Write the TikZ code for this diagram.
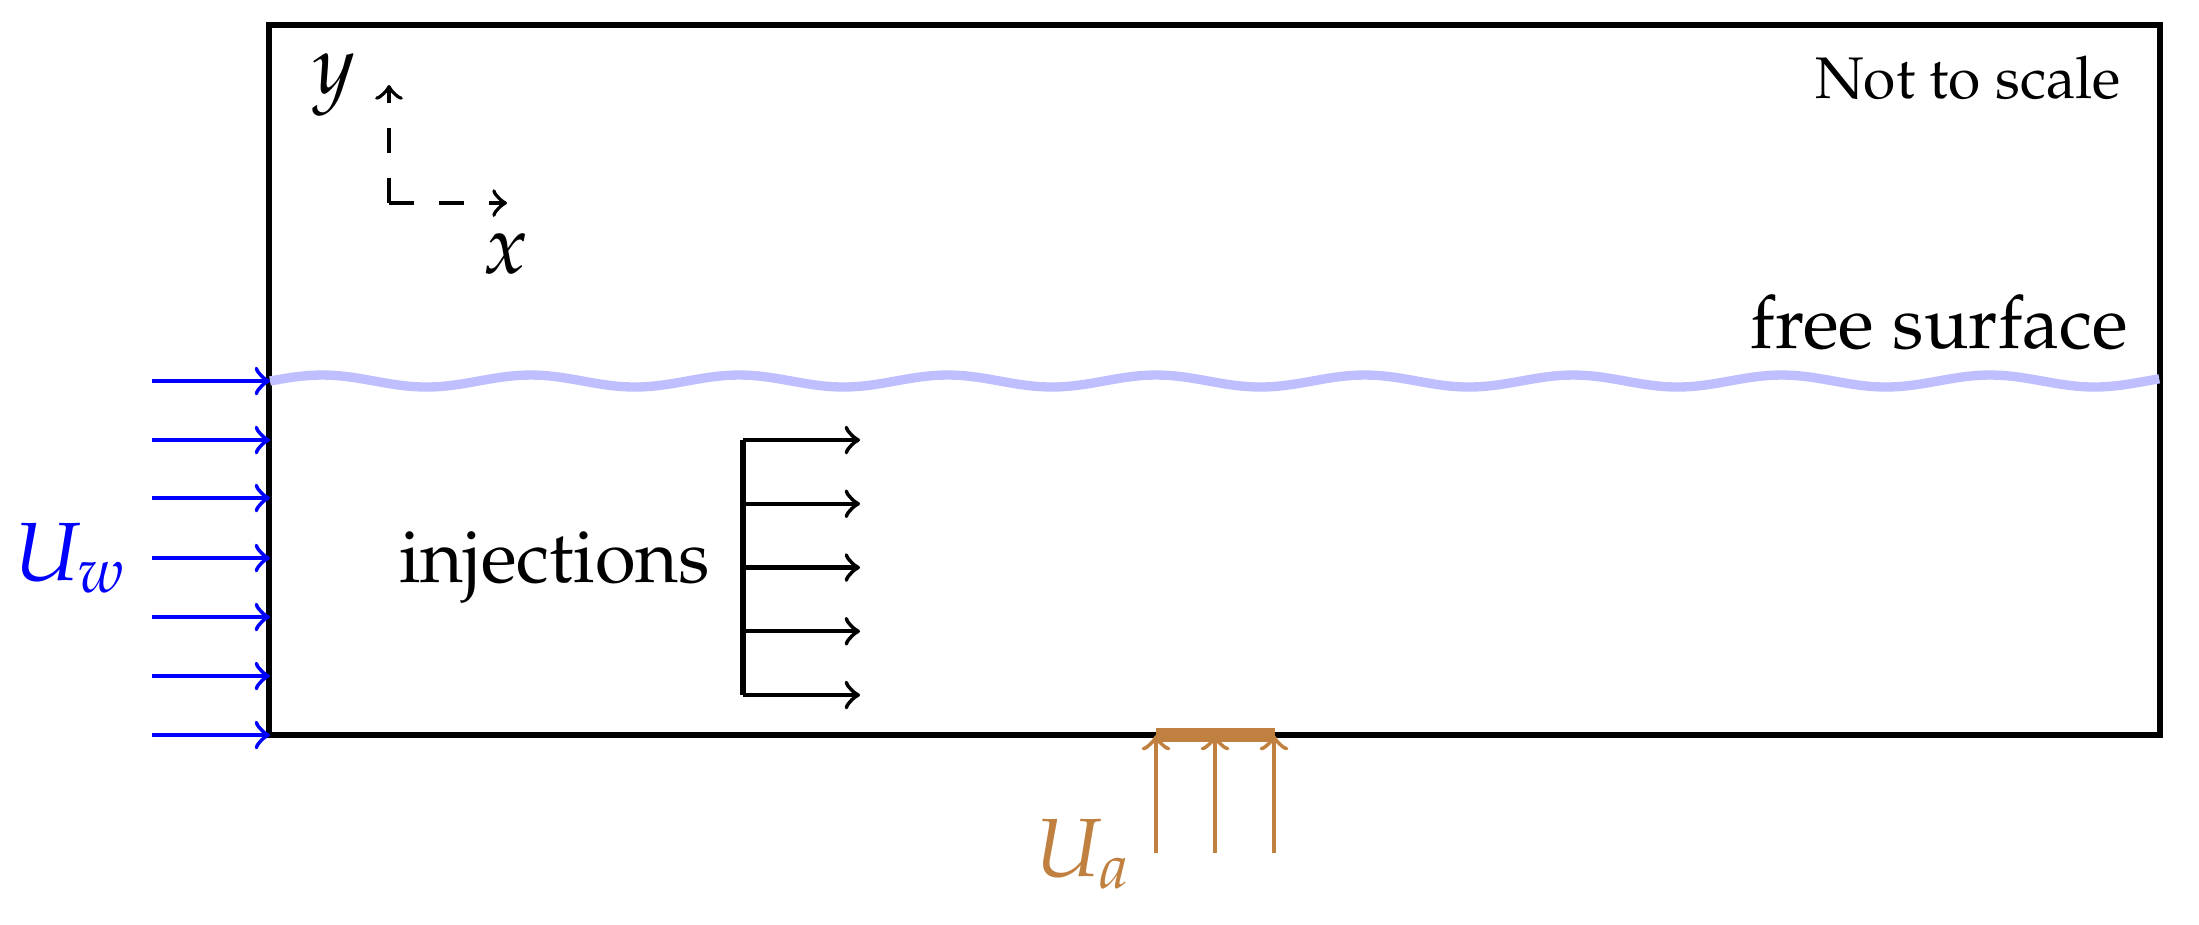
\documentclass[tikz,border=0pt]{standalone}
\usepackage[T1]{fontenc}
\usepackage{mathpazo}
\tikzset{
  wall/.style={line width=1pt},
  inflow/.style={blue, line width=0.65pt, ->},
  injarrow/.style={line width=0.65pt, ->},
  airarrow/.style={brown, line width=0.65pt, ->},
  axisline/.style={line width=0.6pt, ->, dash pattern=on 3.75pt off 3.75pt},
  wave/.style={blue!25, line width=1.4pt},
  lbl/.style={inner sep=0pt, outer sep=0pt},
  big/.style={font=\fontsize{12.4}{14}\selectfont},
  mid/.style={font=\fontsize{11.1}{13}\selectfont},
}
\begin{document}
\begin{tikzpicture}[x=0.15pt, y=-0.15pt]
\useasboundingbox (0,0) rectangle (2199,924);
% domain box
\coordinate (tl) at (269,25);
\coordinate (br) at (2160,735);
\draw[wall] (tl) rectangle (br);
% free surface
\draw[wave] plot[domain=0:9.065, samples=300, variable=\t] ({270+208.5*\t}, {381-6*sin(360*\t)});
% inflow arrows
\foreach \y [count=\i] in {381,440,498,558,617,676,735} {
  \coordinate (ws\i) at (152,\y);
  \coordinate (we\i) at (270,\y);
  \draw[inflow] (ws\i) -- (we\i);
}
\node[lbl, big, anchor=base west, text=blue] (Uw) at (15,580) {$U_w$};
% injections
\coordinate (it) at (743,440);
\coordinate (ib) at (743,695);
\draw[line width=0.9pt] (it) -- (ib);
\foreach \y [count=\i] in {440,503.75,567.5,631.25,695} {
  \coordinate (is\i) at (743,\y);
  \coordinate (ie\i) at (860,\y);
  \draw[injarrow] (is\i) -- (ie\i);
}
\node[lbl, mid, anchor=base east] (inj) at (710,582) {injections};
% air inlet
\foreach \x [count=\i] in {1156,1215,1274} {
  \coordinate (as\i) at (\x,853);
  \coordinate (ae\i) at (\x,735);
  \draw[airarrow] (as\i) -- (ae\i);
}
\coordinate (bl) at (1156,735);
\coordinate (brr) at (1275,735);
\draw[brown, line width=2.1pt] (bl) -- (brr);
\node[lbl, big, anchor=base west, text=brown] (Ua) at (1036,876) {$U_a$};
% axes
\coordinate (o) at (389,203);
\coordinate (yt) at (389,85);
\coordinate (xt) at (507,203);
\draw[axisline] (o) -- (yt);
\draw[axisline] (o) -- (xt);
\node[lbl, big, anchor=base] (ylab) at (334,93) {$y$};
\node[lbl, big, anchor=base] (xlab) at (506,273) {$x$};
% texts
\node[lbl, anchor=base east, font=\fontsize{8.8}{10}\selectfont] (nts) at (2121,98) {Not to scale};
\node[lbl, mid, anchor=base east] (fs) at (2128,348) {free surface};
\end{tikzpicture}
\end{document}
